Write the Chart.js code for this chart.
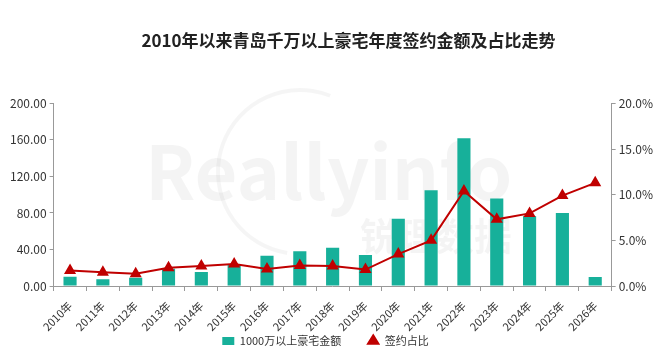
<!DOCTYPE html>
<html>
<head>
<meta charset="utf-8">
<script src="https://cdn.jsdelivr.net/npm/chart.js@4"></script>
<style>
  html, body { margin: 0; padding: 0; background: #fff; }
  #wrap { width: 660px; height: 362px; }
</style>
</head>
<body>
<div id="wrap"><canvas id="myChart" width="660" height="362"></canvas></div>
<script>
// 数据
var years = ['2010年','2011年','2012年','2013年','2014年','2015年','2016年','2017年','2018年','2019年','2020年','2021年','2022年','2023年','2024年','2025年','2026年'];
var amounts = [10, 7.3, 9, 19, 15.3, 23, 33, 38, 42, 34, 73.6, 105, 161.7, 95.8, 76.5, 80, 9.8];
var ratios = [1.7, 1.5, 1.35, 2.0, 2.2, 2.4, 1.85, 2.25, 2.2, 1.8, 3.5, 5.0, 10.4, 7.3, 7.95, 9.9, 11.3];

var FONT = "'Noto Sans CJK SC', 'Noto Sans', sans-serif";
var LEGEND_PAD = 26;

// 水印
var watermark = {
    id: 'watermark',
    beforeDatasetsDraw: function(chart) {
        var c = chart.ctx;
        c.save();
        c.fillStyle = 'rgba(0,0,0,0.045)';
        c.font = 'bold 74px ' + FONT;
        c.textAlign = 'left';
        c.textBaseline = 'alphabetic';
        c.fillText('Reallyinfo', 145, 200);
        c.font = 'bold 38px ' + FONT;
        c.fillText('锐理数据', 360, 250);
        c.strokeStyle = 'rgba(0,0,0,0.04)';
        c.lineWidth = 4;
        c.beginPath();
        c.arc(300, 172, 82, Math.PI * 0.55, Math.PI * 1.62);
        c.stroke();
        c.restore();
    }
};

// 标题和图例位置微调
var shiftBoxes = {
    id: 'shiftBoxes',
    afterLayout: function(chart) {
        var lg = chart.legend;
        lg.top = 341 - LEGEND_PAD - 5.5;
        lg.bottom = lg.top + 2 * LEGEND_PAD + 11;
        lg.left -= 6;
        lg.right -= 6;
        chart.titleBlock.left += 17;
        chart.titleBlock.right += 17;
    }
};

var ctx = document.getElementById('myChart').getContext('2d');
var myChart = new Chart(ctx, {
    type: 'bar',
    data: {
        labels: years,
        datasets: [{
            type: 'line',
            label: '签约占比',
            data: ratios,
            yAxisID: 'y1',
            borderColor: '#c00000',
            backgroundColor: '#c00000',
            borderWidth: 2,
            pointStyle: 'triangle',
            pointRadius: 5,
            pointHoverRadius: 5,
            tension: 0,
            order: 0
        }, {
            label: '1000万以上豪宅金额',
            data: amounts,
            yAxisID: 'y',
            backgroundColor: '#17b09a',
            categoryPercentage: 1,
            barPercentage: 0.4,
            order: 1
        }]
    },
    options: {
        responsive: false,
        animation: false,
        events: [],
        layout: { padding: { left: 7, right: 4, top: 6, bottom: 2 } },
        plugins: {
            title: {
                display: true,
                text: '2010年以来青岛千万以上豪宅年度签约金额及占比走势',
                color: '#222',
                font: { family: FONT, size: 17, weight: 'bold' },
                padding: { top: 24, bottom: 53 }
            },
            legend: {
                position: 'bottom',
                reverse: true,
                maxHeight: 14,
                labels: {
                    color: '#333',
                    font: { family: FONT, size: 11 },
                    usePointStyle: true,
                    pointStyleWidth: 12,
                    boxHeight: 8,
                    padding: LEGEND_PAD,
                    generateLabels: function(chart) {
                        var items = Chart.defaults.plugins.legend.labels.generateLabels(chart);
                        items.forEach(function(it) {
                            if (it.datasetIndex === 1) { it.pointStyle = 'rect'; }
                            else { it.pointStyle = 'triangle'; }
                        });
                        return items;
                    }
                }
            },
            tooltip: { enabled: false }
        },
        scales: {
            x: {
                afterFit: function(s) { s.height = 60; },
                grid: { display: true, drawOnChartArea: false, offset: true, tickLength: 5, color: '#999' },
                border: { color: '#999' },
                ticks: {
                    color: '#333',
                    font: { family: FONT, size: 11 },
                    maxRotation: 45,
                    minRotation: 45,
                    autoSkip: false,
                    padding: 8
                }
            },
            y: {
                position: 'left',
                min: 0,
                max: 200,
                grid: { drawOnChartArea: false, tickLength: 4, color: '#999' },
                border: { color: '#999' },
                ticks: {
                    stepSize: 40,
                    color: '#333',
                    font: { family: FONT, size: 12 },
                    callback: function(v) { return v.toFixed(2); }
                }
            },
            y1: {
                position: 'right',
                min: 0,
                max: 20,
                grid: { drawOnChartArea: false, tickLength: 4, color: '#999' },
                border: { color: '#999' },
                ticks: {
                    stepSize: 5,
                    color: '#333',
                    font: { family: FONT, size: 12 },
                    callback: function(v) { return v.toFixed(1) + '%'; }
                }
            }
        }
    },
    plugins: [watermark, shiftBoxes]
});
</script>
</body>
</html>
